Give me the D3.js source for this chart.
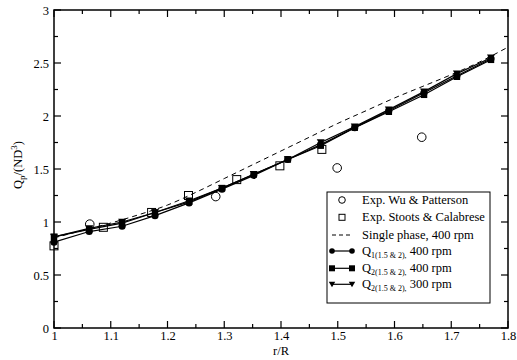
<!DOCTYPE html>
<html><head><meta charset="utf-8">
<script src="https://cdn.jsdelivr.net/npm/d3@7"></script>
<style>body{margin:0;background:#fff}svg{display:block}svg text{font-family:"Liberation Serif","Times New Roman",Times,"DejaVu Serif",serif !important;fill:#000}</style>
</head><body><svg id="c" width="517" height="360"></svg>
<script>
const xs = [1.0, 1.062, 1.12, 1.178, 1.238, 1.296, 1.352, 1.412, 1.470, 1.530, 1.590, 1.652, 1.710, 1.770];
const q1_400 = [0.81, 0.91, 0.96, 1.06, 1.18, 1.31, 1.44, 1.59, 1.73, 1.89, 2.05, 2.22, 2.38, 2.54];
const q2_400 = [0.86, 0.93, 0.99, 1.09, 1.19, 1.32, 1.45, 1.59, 1.72, 1.89, 2.04, 2.20, 2.37, 2.53];
const q2_300 = [0.86, 0.94, 1.00, 1.09, 1.20, 1.32, 1.45, 1.59, 1.75, 1.90, 2.06, 2.23, 2.40, 2.55];
const singleX = [1.0, 1.05, 1.1, 1.15, 1.2, 1.25, 1.3, 1.35, 1.4, 1.45, 1.5, 1.55, 1.6, 1.65, 1.7, 1.75, 1.8];
const singleY = [0.85, 0.92, 0.99, 1.07, 1.16, 1.28, 1.41, 1.54, 1.67, 1.80, 1.93, 2.05, 2.17, 2.28, 2.39, 2.51, 2.65];
const wuX = [1.063, 1.285, 1.499, 1.648];
const wuY = [0.98, 1.24, 1.51, 1.80];
const stX = [1.0, 1.087, 1.172, 1.237, 1.322, 1.398, 1.472];
const stY = [0.775, 0.95, 1.09, 1.25, 1.40, 1.53, 1.685];
const xTicks = [1, 1.1, 1.2, 1.3, 1.4, 1.5, 1.6, 1.7, 1.8];
const yTicks = [0, 0.5, 1, 1.5, 2, 2.5, 3];
const legendLabels = [
  ["Exp. Wu & Patterson"], ["Exp. Stoots & Calabrese"], ["Single phase, 400 rpm"],
  ["Q","1(1.5 & 2)",", 400 rpm"], ["Q","2(1.5 & 2)",", 400 rpm"], ["Q","2(1.5 & 2)",", 300 rpm"]
];

const FONT = "'Liberation Serif','Times New Roman',Times,'DejaVu Serif',serif";
const svg = d3.select("#c");
const L=54, R=508, T=10, B=328;
const x = d3.scaleLinear().domain([1,1.8]).range([L,R]);
const y = d3.scaleLinear().domain([0,3]).range([B,T]);

const minorX = d3.range(1,1.8001,0.05), minorY = d3.range(0,3.0001,0.25);
const g = svg.append("g");
minorX.forEach(v=>{
  const major = Math.abs(Math.round(v*10)-v*10)<1e-6;
  const len = major?7:4;
  g.append("line").attr("x1",x(v)).attr("x2",x(v)).attr("y1",B).attr("y2",B-len).attr("stroke","#000").attr("stroke-width",1.2);
  g.append("line").attr("x1",x(v)).attr("x2",x(v)).attr("y1",T).attr("y2",T+len).attr("stroke","#000").attr("stroke-width",1.2);
});
minorY.forEach(v=>{
  const major = Math.abs(Math.round(v*2)-v*2)<1e-6;
  const len = major?7:4;
  g.append("line").attr("y1",y(v)).attr("y2",y(v)).attr("x1",L).attr("x2",L+len).attr("stroke","#000").attr("stroke-width",1.2);
  g.append("line").attr("y1",y(v)).attr("y2",y(v)).attr("x1",R).attr("x2",R-len).attr("stroke","#000").attr("stroke-width",1.2);
});
const xa = d3.axisBottom(x).tickValues(xTicks).tickSize(0).tickPadding(3).tickFormat(d=>String(+d.toFixed(1)));
const xg = svg.append("g").attr("transform",`translate(0,${B})`).call(xa);
const ya = d3.axisLeft(y).tickValues(yTicks).tickSize(0).tickPadding(5).tickFormat(d=>String(+d.toFixed(1)));
const yg = svg.append("g").attr("transform",`translate(${L},0)`).call(ya);
[xg,yg].forEach(a=>{a.attr("font-family",FONT).attr("font-size",12.5);a.select(".domain").remove();a.selectAll("text").style("font-family",FONT).style("font-size","12.5px");});

svg.append("text").attr("x",(L+R)/2).attr("y",355).attr("text-anchor","middle").style("font-family",FONT).style("font-size","12.5px").text("r/R");
const yl = svg.append("text").attr("transform",`translate(22,${(T+B)/2-4}) rotate(-90)`).attr("text-anchor","middle").style("font-family",FONT).style("font-size","12.5px");
yl.append("tspan").text("Q");
yl.append("tspan").style("font-size","9px").attr("dy",3).text("p");
yl.append("tspan").attr("dy",-3).text("/(ND");
yl.append("tspan").style("font-size","9px").attr("dy",-5).text("3");
yl.append("tspan").attr("dy",5).text(")");

const line = d3.line().x(d=>x(d[0])).y(d=>y(d[1]));
svg.append("path").datum(d3.zip(singleX,singleY)).attr("d",d3.line().x(d=>x(d[0])).y(d=>y(d[1])).curve(d3.curveMonotoneX)).attr("fill","none").attr("stroke","#000").attr("stroke-width",1).attr("stroke-dasharray","5,4");
[q1_400,q2_400,q2_300].forEach(s=>{
  svg.append("path").datum(d3.zip(xs,s)).attr("d",line).attr("fill","none").attr("stroke","#000").attr("stroke-width",1.2);
});
const symC = d3.symbol().type(d3.symbolCircle).size(40);
const symS = d3.symbol().type(d3.symbolSquare).size(42);
function tri(cx,cy,s){return `M${cx-s},${cy-s*0.8}L${cx+s},${cy-s*0.8}L${cx},${cy+s*0.9}Z`;}
xs.forEach((v,i)=>{
  svg.append("path").attr("d",tri(x(v),y(q2_300[i]),4)).attr("fill","#000");
  svg.append("path").attr("d",symS()).attr("transform",`translate(${x(v)},${y(q2_400[i])})`).attr("fill","#000");
  svg.append("path").attr("d",symC()).attr("transform",`translate(${x(v)},${y(q1_400[i])})`).attr("fill","#000");
});
wuX.forEach((v,i)=>svg.append("circle").attr("cx",x(v)).attr("cy",y(wuY[i])).attr("r",4.3).attr("fill","none").attr("stroke","#000").attr("stroke-width",1));
stX.forEach((v,i)=>svg.append("rect").attr("x",x(v)-4).attr("y",y(stY[i])-4).attr("width",8).attr("height",8).attr("fill","none").attr("stroke","#000").attr("stroke-width",1));

svg.append("rect").attr("x",L).attr("y",T).attr("width",R-L).attr("height",B-T).attr("fill","none").attr("stroke","#000").attr("stroke-width",1.5);

const lg = svg.append("g");
lg.append("rect").attr("x",327).attr("y",192).attr("width",163).attr("height",111).attr("fill","#fff").attr("stroke","#000").attr("stroke-width",1);
const rows = [200,217.3,235,251,268.3,284.3];
const sx1=332, sx2=352, sc=342, tx=362;
legendLabels.forEach((lab,i)=>{
  const yy = rows[i];
  if(i===0) lg.append("circle").attr("cx",sc).attr("cy",yy).attr("r",3.3).attr("fill","none").attr("stroke","#000");
  if(i===1) lg.append("rect").attr("x",sc-3).attr("y",yy-3).attr("width",6).attr("height",6).attr("fill","none").attr("stroke","#000");
  if(i===2) lg.append("line").attr("x1",sx1).attr("x2",sx2).attr("y1",yy).attr("y2",yy).attr("stroke","#000").attr("stroke-dasharray","4,3");
  if(i>=3){
    lg.append("line").attr("x1",sx1).attr("x2",sx2).attr("y1",yy).attr("y2",yy).attr("stroke","#000").attr("stroke-width",1.2);
    [sx1,sx2].forEach(px=>{
      if(i===3) lg.append("circle").attr("cx",px).attr("cy",yy).attr("r",2.8).attr("fill","#000");
      if(i===4) lg.append("rect").attr("x",px-3).attr("y",yy-3).attr("width",6).attr("height",6).attr("fill","#000");
      if(i===5) lg.append("path").attr("d",tri(px,yy,3.2)).attr("fill","#000");
    });
  }
  const t = lg.append("text").attr("x",tx).attr("y",yy+4).style("font-family",FONT).style("font-size","12.5px");
  if(lab.length===1) t.text(lab[0]);
  else {
    t.append("tspan").text(lab[0]);
    t.append("tspan").style("font-size","8px").attr("dy",3).text(lab[1]+",");
    t.append("tspan").attr("dy",-3).text(lab[2].slice(1));
  }
});
</script></body></html>
